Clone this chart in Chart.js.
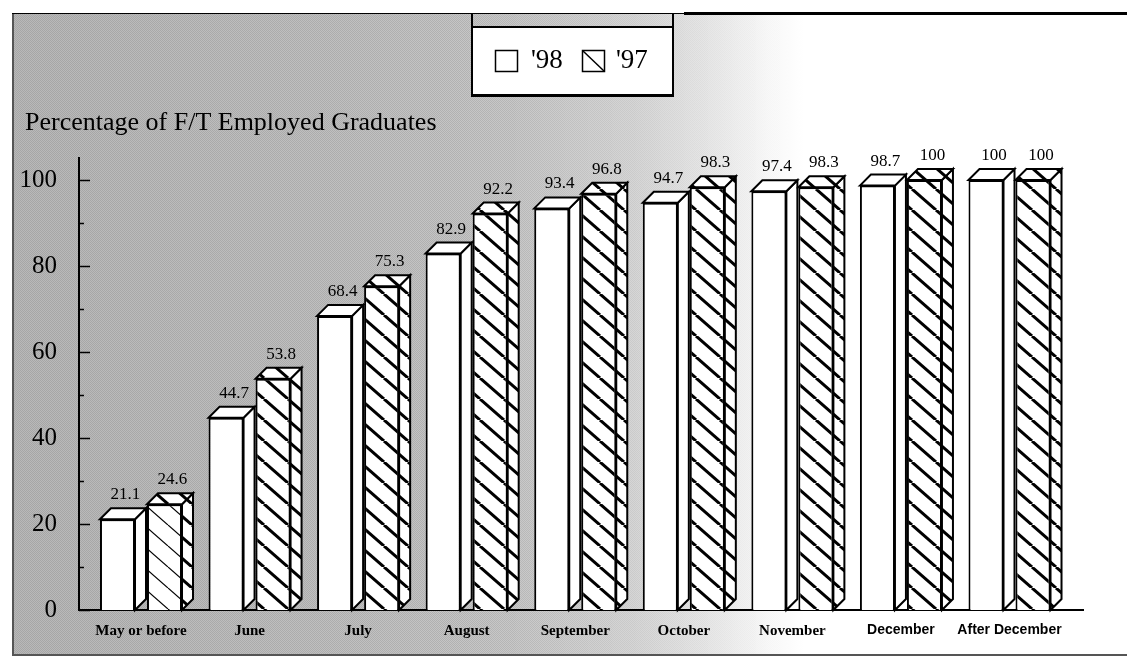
<!DOCTYPE html>
<html lang="en">
<head>
    <script src="https://cdn.jsdelivr.net/npm/chart.js"></script>
    <style>
        body { margin: 0; padding: 0; background: #ffffff; }
        #barChart { display: block; }
    </style>
</head>
<body>
    <canvas id="barChart" width="1127" height="657"></canvas>
    <script>
        // Chart data
        const categories = ['May or before', 'June', 'July', 'August', 'September', 'October', 'November', 'December', 'After December'];
        const seriesNames = ["'98", "'97"];
        const values98 = [21.1, 44.7, 68.4, 82.9, 93.4, 94.7, 97.4, 98.7, 100];
        const values97 = [24.6, 53.8, 75.3, 92.2, 96.8, 98.3, 98.3, 100, 100];
        const yTicks = [0, 20, 40, 60, 80, 100];
        const yMinorTicks = [10, 30, 50, 70, 90];
        const chartTitle = 'Percentage of F/T Employed Graduates';

        const serif = "'Liberation Serif', 'Times New Roman', serif";
        const sans = "'Liberation Sans', Arial, sans-serif";
        const DEPTH = 11; // 3D offset of top/side faces

        const canvas = document.getElementById('barChart');
        const ctx = canvas.getContext('2d');

        // Diagonal hatch tile, lines running top-left to bottom-right
        function makeHatch(lineWidth) {
            const c = document.createElement('canvas');
            c.width = 24;
            c.height = 21;
            const g = c.getContext('2d');
            g.fillStyle = '#ffffff';
            g.fillRect(0, 0, 24, 21);
            g.strokeStyle = '#000000';
            g.lineWidth = lineWidth;
            [-24, 0, 24].forEach(k => {
                g.beginPath();
                g.moveTo(k, 0);
                g.lineTo(k + 24, 21);
                g.stroke();
            });
            return ctx.createPattern(c, 'repeat');
        }
        const thickHatch = makeHatch(3);
        const thinHatch = makeHatch(1.2);

        // Small checker to imitate the halftone background
        function makeDither() {
            const c = document.createElement('canvas');
            c.width = 2;
            c.height = 2;
            const g = c.getContext('2d');
            g.fillStyle = '#000000';
            g.fillRect(0, 0, 1, 1);
            g.fillRect(1, 1, 1, 1);
            return ctx.createPattern(c, 'repeat');
        }
        const dither = makeDither();

        // Gray scanned background with frame
        const backgroundPlugin = {
            id: 'background',
            beforeDraw(chart) {
                const c = chart.ctx;
                c.save();
                const grad = c.createLinearGradient(12, 0, 1127, 0);
                grad.addColorStop(0, '#b8b8b8');
                grad.addColorStop(0.3, '#c0c0c0');
                grad.addColorStop(0.45, '#c8c8c8');
                grad.addColorStop(0.56, '#d6d6d6');
                grad.addColorStop(0.63, '#e8e8e8');
                grad.addColorStop(0.68, '#f8f8f8');
                grad.addColorStop(0.71, '#ffffff');
                c.fillStyle = grad;
                c.fillRect(12, 13, 1115, 642);
                // halftone dots, fading out to the right
                c.fillStyle = dither;
                for (let x = 12; x < 780; x += 24) {
                    c.globalAlpha = x < 460 ? 0.1 : 0.1 * (780 - x) / 320;
                    c.fillRect(x, 13, 24, 642);
                }
                c.globalAlpha = 1;

                // frame
                c.strokeStyle = '#555555';
                c.lineWidth = 2;
                c.beginPath();
                c.moveTo(13, 13);
                c.lineTo(13, 655);
                c.lineTo(1127, 655);
                c.stroke();
                c.strokeStyle = '#000000';
                c.lineWidth = 1;
                c.beginPath();
                c.moveTo(12, 13.5);
                c.lineTo(684, 13.5);
                c.stroke();
                c.lineWidth = 3;
                c.beginPath();
                c.moveTo(684, 13.5);
                c.lineTo(1127, 13.5);
                c.stroke();
                c.restore();
            }
        };

        // Top and side faces of each bar, plus value labels
        const bars3dPlugin = {
            id: 'bars3d',
            afterDatasetsDraw(chart) {
                const c = chart.ctx;
                c.save();
                c.strokeStyle = '#000000';
                c.lineWidth = 2;
                c.lineJoin = 'miter';
                chart.data.datasets.forEach((ds, di) => {
                    const meta = chart.getDatasetMeta(di);
                    meta.data.forEach((bar, i) => {
                        const left = bar.x - bar.width / 2;
                        const right = bar.x + bar.width / 2;
                        const top = bar.y;
                        const base = bar.base;
                        c.fillStyle = ds.sideFill;
                        // side face
                        c.beginPath();
                        c.moveTo(right, top);
                        c.lineTo(right + DEPTH, top - DEPTH);
                        c.lineTo(right + DEPTH, base - DEPTH);
                        c.lineTo(right, base);
                        c.closePath();
                        c.fill();
                        c.stroke();
                        // top face
                        c.beginPath();
                        c.moveTo(left, top);
                        c.lineTo(left + DEPTH, top - DEPTH);
                        c.lineTo(right + DEPTH, top - DEPTH);
                        c.lineTo(right, top);
                        c.closePath();
                        c.fill();
                        c.stroke();
                        // value label
                        c.fillStyle = '#000000';
                        c.font = '17px ' + serif;
                        c.textAlign = 'center';
                        c.textBaseline = 'alphabetic';
                        c.fillText(String(ds.data[i].y), bar.x + 8, top - DEPTH - 9);
                    });
                });
                c.restore();
            },
            afterDraw(chart) {
                const c = chart.ctx;
                const yScale = chart.scales.y;
                const left = chart.chartArea.left;
                c.save();
                // inner tick marks on the y axis
                c.strokeStyle = '#000000';
                c.lineWidth = 1.5;
                yTicks.forEach(v => {
                    const y = Math.round(yScale.getPixelForValue(v)) + 0.5;
                    c.beginPath();
                    c.moveTo(left, y);
                    c.lineTo(left + 11, y);
                    c.stroke();
                });
                yMinorTicks.forEach(v => {
                    const y = Math.round(yScale.getPixelForValue(v)) + 0.5;
                    c.beginPath();
                    c.moveTo(left, y);
                    c.lineTo(left + 5, y);
                    c.stroke();
                });

                // title
                c.fillStyle = '#000000';
                c.font = '26px ' + serif;
                c.textAlign = 'left';
                c.textBaseline = 'alphabetic';
                c.fillText(chartTitle, 25, 130);

                // legend box
                c.fillStyle = '#ffffff';
                c.fillRect(472, 27, 201, 69);
                c.strokeStyle = '#000000';
                c.lineWidth = 2;
                c.beginPath();
                c.moveTo(472, 13);
                c.lineTo(472, 96);
                c.moveTo(673, 13);
                c.lineTo(673, 96);
                c.moveTo(472, 27);
                c.lineTo(673, 27);
                c.stroke();
                c.lineWidth = 3;
                c.beginPath();
                c.moveTo(471, 95.5);
                c.lineTo(674, 95.5);
                c.stroke();

                // legend symbols
                c.lineWidth = 1.5;
                c.strokeRect(495.5, 50.5, 22, 21);
                c.strokeRect(582.5, 50.5, 22, 21);
                c.beginPath();
                c.moveTo(582.5, 50.5);
                c.lineTo(604.5, 71.5);
                c.stroke();
                c.font = '27px ' + serif;
                c.fillStyle = '#000000';
                c.fillText(seriesNames[0], 531, 68);
                c.fillText(seriesNames[1], 616, 68);
                c.restore();
            }
        };

        new Chart(ctx, {
            type: 'bar',
            data: {
                datasets: [
                    {
                        label: seriesNames[0],
                        data: values98.map((v, i) => ({ x: i, y: v })),
                        backgroundColor: '#ffffff',
                        sideFill: '#ffffff',
                        borderColor: '#000000',
                        borderWidth: 2,
                        categoryPercentage: 0.866,
                        barPercentage: 0.745
                    },
                    {
                        label: seriesNames[1],
                        data: values97.map((v, i) => ({ x: i, y: v })),
                        backgroundColor: values97.map((v, i) => i === 0 ? thinHatch : thickHatch),
                        sideFill: thickHatch,
                        borderColor: '#000000',
                        borderWidth: 2,
                        categoryPercentage: 0.866,
                        barPercentage: 0.745
                    }
                ]
            },
            options: {
                responsive: false,
                animation: false,
                layout: { padding: { top: 158, left: 13, right: 44, bottom: 7 } },
                plugins: {
                    legend: { display: false },
                    title: { display: false },
                    tooltip: { enabled: false }
                },
                scales: {
                    x: {
                        type: 'linear',
                        offset: false,
                        min: -0.571,
                        max: 8.677,
                        grid: { display: false, offset: false },
                        border: { display: true, color: '#000000', width: 2 },
                        afterBuildTicks: s => { s.ticks = categories.map((c, i) => ({ value: i })); },
                        afterFit: s => { s.height = 40; },
                        ticks: {
                            autoSkip: false,
                            maxRotation: 0,
                            padding: 4,
                            color: '#000000',
                            callback: v => categories[v],
                            font: c => c.index >= 7
                                ? { family: sans, size: 14, weight: 'bold' }
                                : { family: serif, size: 15, weight: 'bold' }
                        }
                    },
                    y: {
                        min: 0,
                        max: 105.12,
                        grid: { display: false },
                        border: { display: true, color: '#000000', width: 2 },
                        afterBuildTicks: s => { s.ticks = yTicks.map(v => ({ value: v })); },
                        afterFit: s => { s.width = 66; },
                        ticks: {
                            padding: 14,
                            color: '#000000',
                            font: { family: serif, size: 25 }
                        }
                    }
                }
            },
            plugins: [backgroundPlugin, bars3dPlugin]
        });
    </script>
</body>
</html>
